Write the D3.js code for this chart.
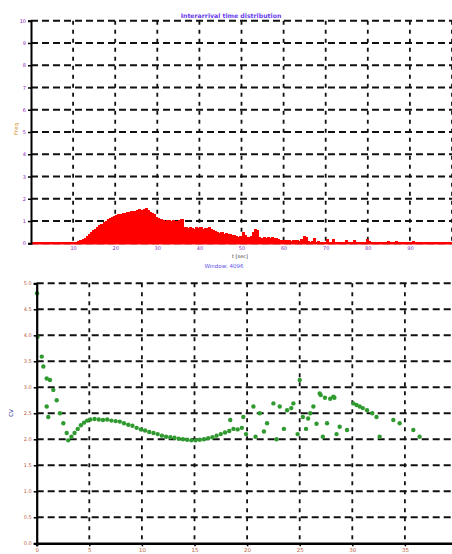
<!DOCTYPE html>
<html>
<head>
<meta charset="utf-8">
<script src="https://cdn.jsdelivr.net/npm/d3@7"></script>
<style>
  html, body { margin: 0; padding: 0; background: #fff; }
  svg { display: block; }
  text { font-family: "DejaVu Sans", sans-serif; }
</style>
</head>
<body>
<svg id="chart" width="452" height="554"></svg>
<script>
// ---------------- DATA ----------------
const histTitle = "Interarrival time distribution";
const histXLabel = "t [sec]";
const histYLabel = "Freq";
const windowLabel = "Window: 4096";
const histXTicks = [10, 20, 30, 40, 50, 60, 70, 80, 90];
const histYTicks = [0, 1, 2, 3, 4, 5, 6, 7, 8, 9, 10];
const histBinStart = 10;
const histBinWidth = 0.5;
const histCounts = [
  0.03, 0.06, 0.10, 0.14, 0.20, 0.26, 0.33, 0.40, 0.50, 0.58,   // 10 - 14.5
  0.64, 0.72, 0.80, 0.88, 0.95, 1.02, 1.08, 1.14, 1.18, 1.22,   // 15 - 19.5
  1.26, 1.30, 1.33, 1.36, 1.38, 1.40, 1.42, 1.44, 1.45, 1.47,   // 20 - 24.5
  1.50, 1.54, 1.48, 1.52, 1.57, 1.50, 1.42, 1.38, 1.30, 1.20,   // 25 - 29.5
  1.12, 1.08, 1.05, 1.02, 1.06, 1.03, 1.00, 1.04, 1.02, 1.00,   // 30 - 34.5
  1.05, 1.08, 0.75, 0.72, 0.68, 0.74, 0.70, 0.66, 0.72, 0.69,   // 35 - 39.5
  0.73, 0.65, 0.70, 0.68, 0.72, 0.64, 0.60, 0.55, 0.50, 0.48,   // 40 - 44.5
  0.52, 0.44, 0.46, 0.40, 0.42, 0.38, 0.36, 0.33, 0.30, 0.35,   // 45 - 49.5
  0.50, 0.36, 0.30, 0.28, 0.34, 0.50, 0.64, 0.58, 0.30, 0.26,   // 50 - 54.5
  0.30, 0.24, 0.28, 0.25, 0.30, 0.22, 0.26, 0.20, 0.16, 0.14,   // 55 - 59.5
  0.17, 0.13, 0.15, 0.12, 0.16, 0.13, 0.14, 0.12, 0.20, 0.34,   // 60 - 64.5
  0.30, 0.10, 0.08, 0.10, 0.22, 0.07, 0.09, 0.06, 0.08, 0.05,   // 65 - 69.5
  0.20, 0.06, 0.07, 0.18, 0.05, 0.06, 0.04, 0.07, 0.05, 0.16,   // 70 - 74.5
  0.06, 0.04, 0.05, 0.15, 0.04, 0.05, 0.03, 0.05, 0.04, 0.20,   // 75 - 79.5
  0.12, 0.04, 0.03, 0.04, 0.03, 0.05, 0.03, 0.04, 0.03, 0.12,   // 80 - 84.5
  0.03, 0.02, 0.03, 0.10, 0.03, 0.02, 0.03, 0.02, 0.03, 0.02,   // 85 - 89.5
  0.03, 0.11, 0.04, 0.02, 0.02, 0.02, 0.02, 0.02, 0.02, 0.02,   // 90 - 94.5
  0.02, 0.02, 0.02, 0.02, 0.02, 0.02, 0.02, 0.02, 0.02, 0.02    // 95 - 99.5
];

const ratioYLabel = "CV";
const ratioXGrid = [5, 10, 15, 20, 25, 30, 35, 40];
const ratioXTicks = [0, 5, 10, 15, 20, 25, 30, 35];
const ratioYTicks = [0, 0.5, 1, 1.5, 2, 2.5, 3, 3.5, 4, 4.5, 5];
const ratioX = [
  0.03, 0.08, 0.48, 0.63, 0.95, 1.26, 1.58, 0.95, 1.10, 1.90, 2.21, 2.53, 2.85,
  3.0, 3.3, 3.6, 3.9, 4.2, 4.5, 4.8, 5.1, 5.5, 5.9, 6.3, 6.7, 7.1, 7.5, 7.9,
  8.3, 8.7, 9.1, 9.5, 9.9, 10.3, 10.7, 11.1, 11.5, 11.9, 12.3, 12.7, 13.1,
  13.5, 13.9, 14.3, 14.7, 15.1, 15.5, 15.9, 16.3, 16.7, 17.1, 17.5, 17.9,
  18.3, 18.7, 19.1, 19.5,
  18.4, 19.64, 20.6, 21.2, 21.9, 22.5, 23.1, 23.8, 24.4, 25.0, 25.3, 26.0,
  26.3, 26.9, 27.6, 28.2, 28.8, 29.5, 30.1, 30.7, 31.4, 32.3, 32.6, 33.9,
  34.5, 35.8, 36.4,
  19.9, 20.8, 21.6, 22.8, 23.5, 24.8, 25.6, 26.6, 27.2, 28.5, 27.0, 27.4,
  27.9, 28.3, 30.4, 31.0, 31.9, 24.2, 25.8
];
const ratioY = [
  4.81, 3.97, 3.59, 3.40, 3.17, 3.14, 2.95, 2.63, 2.43, 2.75, 2.50, 2.31, 2.12,
  1.98, 2.05, 2.12, 2.20, 2.27, 2.32, 2.36, 2.38, 2.39, 2.38, 2.37, 2.38, 2.36, 2.35, 2.34,
  2.31, 2.28, 2.26, 2.22, 2.19, 2.17, 2.14, 2.12, 2.10, 2.07, 2.05, 2.04, 2.03,
  2.01, 2.00, 1.99, 1.98, 1.98, 1.99, 2.00, 2.02, 2.04, 2.07, 2.10, 2.13,
  2.16, 2.20, 2.19, 2.22,
  2.37, 2.43, 2.63, 2.50, 2.31, 2.69, 2.63, 2.56, 2.69, 3.14, 2.43, 2.50,
  2.63, 2.88, 2.31, 2.82, 2.24, 2.18, 2.69, 2.63, 2.56, 2.43, 2.05, 2.37,
  2.31, 2.18, 2.05,
  2.10, 2.05, 2.15, 2.00, 2.20, 2.10, 2.20, 2.30, 2.05, 2.10, 2.85, 2.80,
  2.78, 2.80, 2.66, 2.60, 2.50, 2.60, 2.40
];

// ---------------- DRAWING ----------------
const svg = d3.select("#chart");
const gridColor = "#111";

// ===== Top chart: histogram =====
const T = { left: 31, top: 20.7, right: 452, bottom: 243.3 };
const xT = d3.scaleLinear().domain([0, 100]).range([T.left, T.right]);
const yT = d3.scaleLinear().domain([0, 10]).range([T.bottom, T.top]);
const gT = svg.append("g");

// grid
gT.append("g").selectAll("line").data(histYTicks).join("line")
  .attr("x1", T.left).attr("x2", T.right)
  .attr("y1", d => yT(d)).attr("y2", d => yT(d))
  .attr("stroke", gridColor).attr("stroke-width", 2)
  .attr("stroke-dasharray", "7,4");
gT.append("g").selectAll("line").data(histXTicks.concat([100])).join("line")
  .attr("x1", d => xT(d)).attr("x2", d => xT(d))
  .attr("y1", T.top).attr("y2", T.bottom)
  .attr("stroke", gridColor).attr("stroke-width", 1.8)
  .attr("stroke-dasharray", "4,5");

// bars
const bw = xT(histBinWidth) - xT(0);
gT.append("g").attr("shape-rendering", "crispEdges")
  .selectAll("rect").data(histCounts).join("rect")
  .attr("x", (d, i) => xT(histBinStart + i * histBinWidth))
  .attr("width", bw + 1)
  .attr("y", d => yT(d))
  .attr("height", d => yT(0) - yT(d))
  .attr("fill", "#ff0000");
// red baseline
gT.append("line")
  .attr("x1", xT(0)).attr("x2", xT(100))
  .attr("y1", yT(0)).attr("y2", yT(0))
  .attr("stroke", "#ff0000").attr("stroke-width", 2.5);

// axes
const axLT = d3.axisLeft(yT).tickValues(histYTicks).tickSize(3).tickPadding(2);
const gAxLT = gT.append("g").attr("transform", `translate(${T.left},0)`).call(axLT);
gAxLT.select(".domain").attr("stroke", "#000").attr("stroke-width", 2);
gAxLT.selectAll(".tick line").attr("stroke", "#000").attr("stroke-width", 1.5);
gAxLT.selectAll("text").attr("fill", "#9020c0").attr("font-size", 5);

const axBT = d3.axisBottom(xT).tickValues(histXTicks).tickSize(0).tickPadding(3);
const gAxBT = gT.append("g").attr("transform", `translate(0,${T.bottom})`).call(axBT);
gAxBT.select(".domain").remove();
gAxBT.selectAll("text").attr("fill", "#7a30c0").attr("font-size", 5);

gT.append("text").attr("x", 231).attr("y", 17.5).attr("text-anchor", "middle")
  .attr("font-size", 6.2).attr("font-weight", "bold").attr("fill", "#6a3cf0")
  .text(histTitle);
gT.append("text").attr("x", 240).attr("y", 258).attr("text-anchor", "middle")
  .attr("font-size", 5).attr("fill", "#333").text(histXLabel);
gT.append("text").attr("transform", "translate(18,129) rotate(-90)")
  .attr("text-anchor", "middle").attr("font-size", 5.5).attr("fill", "#d08a20")
  .text(histYLabel);
svg.append("text").attr("x", 224).attr("y", 268).attr("text-anchor", "middle")
  .attr("font-size", 5.5).attr("fill", "#5a50e8").text(windowLabel);

// ===== Bottom chart: scatter =====
const B = { left: 36.7, top: 283.3, bottom: 543.3 };
const xB = d3.scaleLinear().domain([0, 40]).range([B.left, B.left + 8 * 52.6]);
const yB = d3.scaleLinear().domain([0, 5]).range([B.bottom, B.top]);
const gB = svg.append("g");

gB.append("g").selectAll("line").data(ratioYTicks.filter(d => d > 0)).join("line")
  .attr("x1", B.left).attr("x2", xB(40))
  .attr("y1", d => yB(d)).attr("y2", d => yB(d))
  .attr("stroke", gridColor).attr("stroke-width", 2)
  .attr("stroke-dasharray", "7,4");
gB.append("g").selectAll("line").data(ratioXGrid).join("line")
  .attr("x1", d => xB(d)).attr("x2", d => xB(d))
  .attr("y1", B.top).attr("y2", B.bottom)
  .attr("stroke", gridColor).attr("stroke-width", 1.8)
  .attr("stroke-dasharray", "4,5");

gB.append("g").selectAll("circle").data(ratioX.map((x, i) => [x, ratioY[i]])).join("circle")
  .attr("cx", d => xB(d[0])).attr("cy", d => yB(d[1]))
  .attr("r", 2.2).attr("fill", "#2f9a2f");

const axLB = d3.axisLeft(yB).tickValues(ratioYTicks).tickSize(3).tickPadding(2);
const gAxLB = gB.append("g").attr("transform", `translate(${B.left},0)`).call(axLB);
gAxLB.select(".domain").attr("stroke", "#000").attr("stroke-width", 2.2);
gAxLB.selectAll(".tick line").attr("stroke", "#000").attr("stroke-width", 1.5);
gAxLB.selectAll("text").attr("fill", "#c0603a").attr("font-size", 5);

const axBB = d3.axisBottom(xB).tickValues(ratioXTicks).tickSize(3).tickPadding(2);
const gAxBB = gB.append("g").attr("transform", `translate(0,${B.bottom})`).call(axBB);
gAxBB.select(".domain").attr("stroke", "#000").attr("stroke-width", 2.5);
gAxBB.selectAll(".tick line").attr("stroke", "#000").attr("stroke-width", 1.5);
gAxBB.selectAll("text").attr("fill", "#c0603a").attr("font-size", 5.5);

gB.append("text").attr("transform", "translate(13,413) rotate(-90)")
  .attr("text-anchor", "middle").attr("font-size", 5.5).attr("fill", "#1a2a9a")
  .text(ratioYLabel);
</script>
</body>
</html>
